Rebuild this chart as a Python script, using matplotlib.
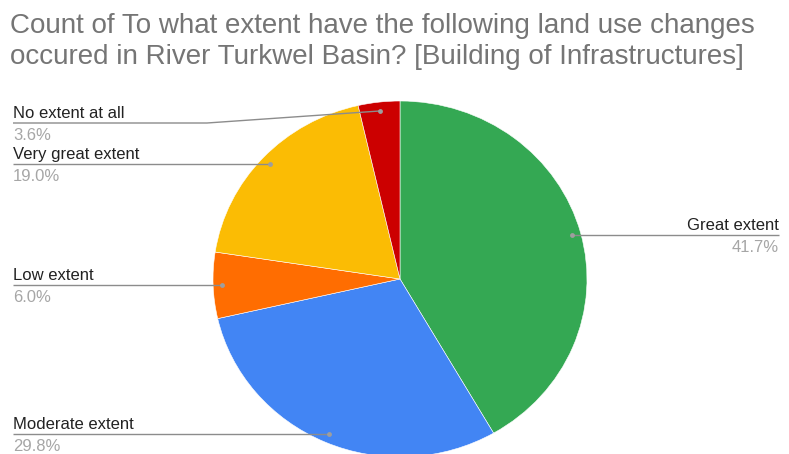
import numpy as np
import matplotlib
matplotlib.use("Agg")
import matplotlib.pyplot as plt

# Chart data (clockwise from 12 o'clock)
categories = ["Great extent", "Moderate extent", "Low extent", "Very great extent", "No extent at all"]
shares = [41.7, 29.8, 6.0, 19.0, 3.6]
colors = ["#34A853", "#4285F4", "#FF6D01", "#FBBC04", "#CC0000"]

title = ("Count of To what extent have the following land use changes\n"
         "occured in River Turkwel Basin? [Building of Infrastructures]")

W, H = 789, 454
CX, CY = 400, 279      # pie centre, pixels from top-left
RX, RY = 187, 178      # pie radius in pixels (screenshot is slightly stretched)


def px(x, y):
    """pixel (from top-left) -> data coords"""
    return (x - CX) / RX, (CY - y) / RY


fig = plt.figure(figsize=(W / 100, H / 100), dpi=100)
ax = fig.add_axes([0, 0, 1, 1])

wedges, _ = ax.pie(shares, colors=colors, startangle=90, counterclock=False,
                   radius=1.0, wedgeprops=dict(linewidth=0.4, edgecolor="white"))
ax.set_aspect("auto")
x0, y0 = px(0, H)
x1, y1 = px(W, 0)
ax.set_xlim(x0, x1)
ax.set_ylim(y0, y1)
ax.axis("off")

# Labels: side, and optional leader line row (pixels) when the dot row is taken
sides = ["right", "left", "left", "left", "left"]
line_rows = [None, None, None, None, 123]
knee_x = [None, None, None, None, 207]

for i, w in enumerate(wedges):
    theta = np.deg2rad((w.theta1 + w.theta2) / 2)
    dx, dy = 0.95 * np.cos(theta), 0.95 * np.sin(theta)
    dot_py = CY - dy * RY
    dot_px = CX + dx * RX
    row = dot_py if line_rows[i] is None else line_rows[i]
    end_px = 13 if sides[i] == "left" else 779
    kx = dot_px if knee_x[i] is None else knee_x[i]

    pts = [(dot_px, dot_py), (kx, row), (end_px, row)]
    xs, ys = zip(*[px(a, b) for a, b in pts])
    ax.plot(xs, ys, color="#8c8c8c", linewidth=1.0, solid_capstyle="butt")
    ax.plot(dx, dy, "o", color="#9e9e9e", markersize=3.5, markeredgewidth=0)

    ha = "left" if sides[i] == "left" else "right"
    tx, ty = px(end_px, row - 5)
    ax.text(tx, ty, categories[i], ha=ha, va="baseline", fontsize=12,
            color="#222222", family="Liberation Sans")
    tx, ty = px(end_px, row + 17)
    ax.text(tx, ty, f"{shares[i]:.1f}%", ha=ha, va="baseline", fontsize=12,
            color="#a6a6a6", family="Liberation Sans")

fig.text(10 / W, 1 - 33 / H, title.split("\n")[0], ha="left", va="baseline",
         fontsize=20, color="#757575", family="Liberation Sans")
fig.text(10 / W, 1 - 64 / H, title.split("\n")[1], ha="left", va="baseline",
         fontsize=20, color="#757575", family="Liberation Sans")

fig.savefig("out.png", dpi=100)
